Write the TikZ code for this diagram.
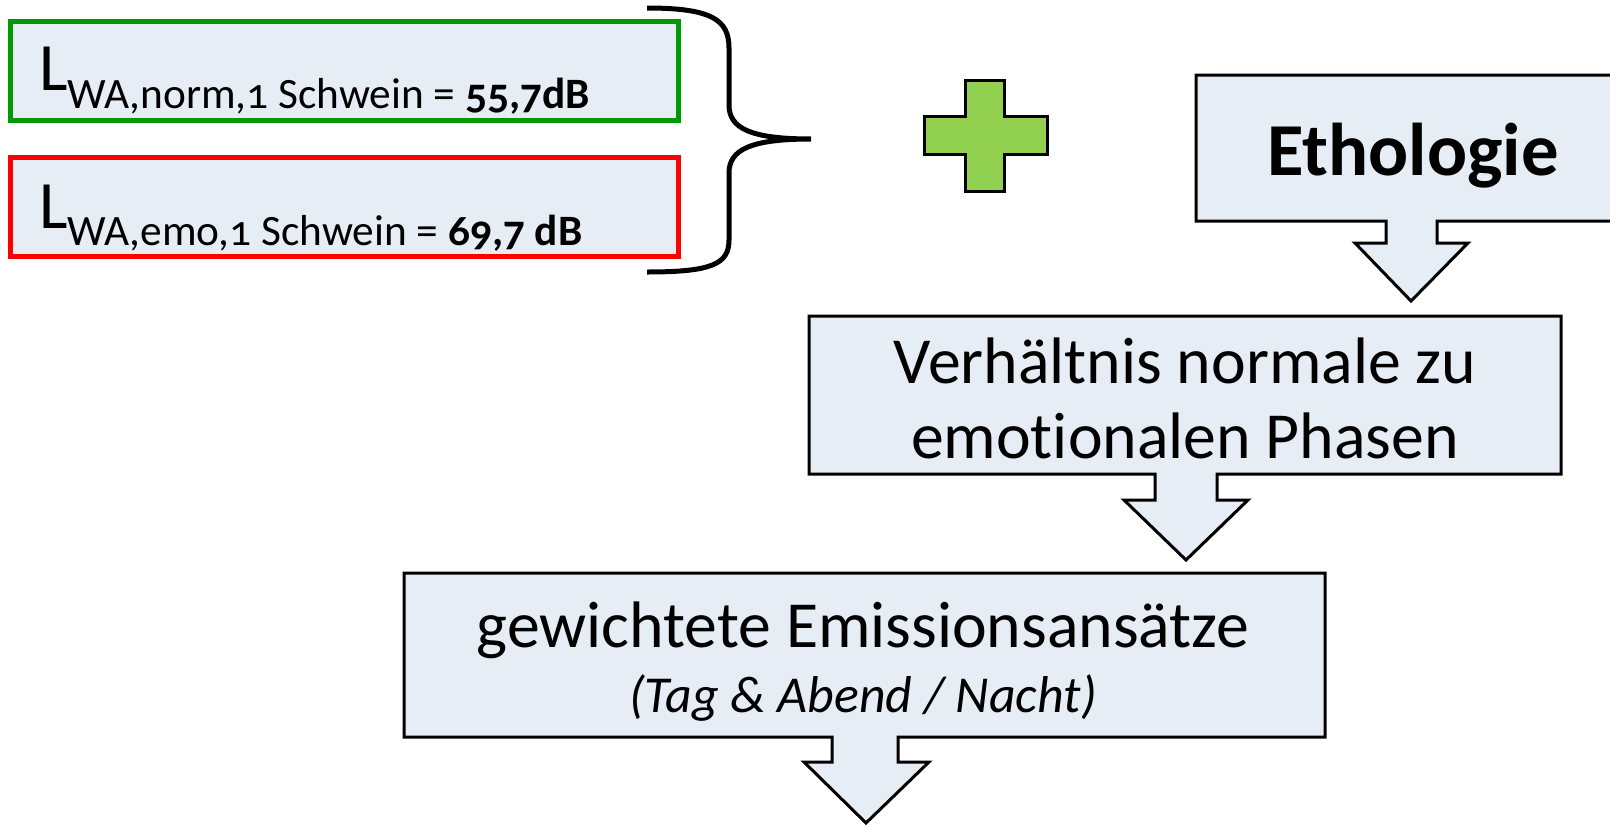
\documentclass[tikz,border=0pt]{standalone}
\usepackage{fontspec}
\setmainfont{Carlito}[Numbers=OldStyle]
\definecolor{boxfill}{RGB}{230,237,244}
\definecolor{normgreen}{RGB}{0,153,0}
\definecolor{emored}{RGB}{255,0,0}
\definecolor{plusgreen}{RGB}{146,208,80}
\tikzset{
  callout/.style={draw=black, fill=boxfill, line width=3bp, line join=miter},
  levelbox/.style={fill=boxfill, line width=5bp},
  txt/.style={inner sep=0pt, anchor=base},
}
\newcommand{\fs}[1]{\fontsize{#1}{#1}\selectfont}
\begin{document}
\begin{tikzpicture}[x=1bp,y=-1bp]
\useasboundingbox (0,0) rectangle (1610,825);
\clip (0,0) rectangle (1610,825);

% sound power level boxes
\draw[levelbox, draw=normgreen] (10,21) rectangle (678,120);
\draw[levelbox, draw=emored] (10,157) rectangle (678,256);
\node[txt, anchor=base west] (lnorm) at (39,90)
  {\fs{68}L\raisebox{-18bp}{\fs{43.5}WA,norm,1 Schwein = \textbf{55,7dB}}};
\node[txt, anchor=base west] (lemo) at (39,228)
  {\fs{68}L\raisebox{-17bp}{\fs{43.5}WA,emo,1 Schwein = \textbf{69,7 dB}}};

% curly brace grouping both levels
\draw[line width=5bp] (647,8) .. controls (712,8) and (729,20) .. (729,48)
  -- (729,105) .. controls (729,128) and (750,139) .. (811,139)
  .. controls (750,139) and (729,150) .. (729,173)
  -- (729,240) .. controls (729,264) and (712,272) .. (647,272);

% plus sign
\draw[fill=plusgreen, line width=3bp] (965,80) -- (1004,80) -- (1004,116) -- (1047,116)
  -- (1047,154) -- (1004,154) -- (1004,191) -- (965,191) -- (965,154)
  -- (924,154) -- (924,116) -- (965,116) -- cycle;

% Ethologie callout
\draw[callout] (1196,75) -- (1630,75) -- (1630,221) -- (1437,221) -- (1437,243)
  -- (1468,243) -- (1411,301) -- (1355,243) -- (1386,243) -- (1386,221)
  -- (1196,221) -- cycle;
\node[txt] (etho) at (1413,175) {\fs{75}\textbf{Ethologie}};

% ratio callout
\draw[callout] (809,316) -- (1561,316) -- (1561,474) -- (1217,474) -- (1217,500)
  -- (1248,500) -- (1186,560) -- (1124,500) -- (1155,500) -- (1155,474)
  -- (809,474) -- cycle;
\node[txt] (ratio1) at (1185,383) {\fs{66}Verhältnis normale zu};
\node[txt] (ratio2) at (1185,458) {\fs{66}emot\kern0pt ionalen Phasen};

% weighted emission callout
\draw[callout] (404,573) -- (1325,573) -- (1325,737) -- (898,737) -- (898,762)
  -- (929,762) -- (866,823) -- (804,762) -- (832,762) -- (832,737)
  -- (404,737) -- cycle;
\node[txt] (weight1) at (863,647) {\fs{66}gewichtete Emissionsansätze};
\node[txt] (weight2) at (863,712) {\fs{52}\itshape (Tag \& Abend / Nacht)};
\end{tikzpicture}
\end{document}
